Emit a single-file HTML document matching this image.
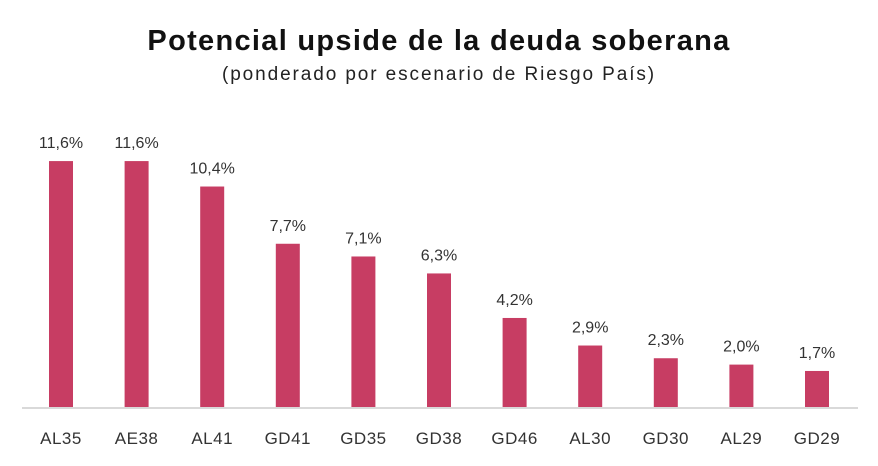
<!DOCTYPE html>
<html><head><meta charset="utf-8"><style>
body{margin:0;background:#fff;width:878px;height:461px;overflow:hidden;font-family:"Liberation Sans",sans-serif}
</style></head><body>
<svg width="878" height="461">
<text x="439" y="50" text-anchor="middle" font-size="29" font-weight="bold" letter-spacing="1.3" fill="#111">Potencial upside de la deuda soberana</text>
<text x="439" y="80" text-anchor="middle" font-size="19" letter-spacing="1.9" fill="#222">(ponderado por escenario de Riesgo País)</text>
<line x1="22" y1="408" x2="858" y2="408" stroke="#d9d9d9" stroke-width="2"/>
<g id="bars"></g>
</svg>
<script>
const categories=["AL35","AE38","AL41","GD41","GD35","GD38","GD46","AL30","GD30","AL29","GD29"];
const values=[11.6,11.6,10.4,7.7,7.1,6.3,4.2,2.9,2.3,2.0,1.7];
const g=document.getElementById('bars');
const NS='http://www.w3.org/2000/svg';
const x0=61,step=75.6,bw=24,base=407,k=21.2;
const xs=i=>x0+i*step, ys=v=>base-v*k;
categories.forEach((c,i)=>{
 const v=values[i];
 const r=document.createElementNS(NS,'rect');
 r.setAttribute('x',xs(i)-bw/2);r.setAttribute('y',ys(v));r.setAttribute('width',bw);r.setAttribute('height',base-ys(v));r.setAttribute('fill','#c73d63');
 
 
 g.appendChild(r);
 const t=document.createElementNS(NS,'text');
 t.setAttribute('x',xs(i));t.setAttribute('y',ys(v)-13);t.setAttribute('text-anchor','middle');t.setAttribute('font-size','16');t.setAttribute('fill','#333');
 t.textContent=v.toFixed(1).replace('.',',')+'%';
 
 
 g.appendChild(t);
 const l=document.createElementNS(NS,'text');
 l.setAttribute('x',xs(i));l.setAttribute('y',444);l.setAttribute('text-anchor','middle');l.setAttribute('font-size','17');l.setAttribute('letter-spacing','0.5');l.setAttribute('fill','#333');
 l.textContent=c;
 
 
 g.appendChild(l);
});
</script>
</body></html>
